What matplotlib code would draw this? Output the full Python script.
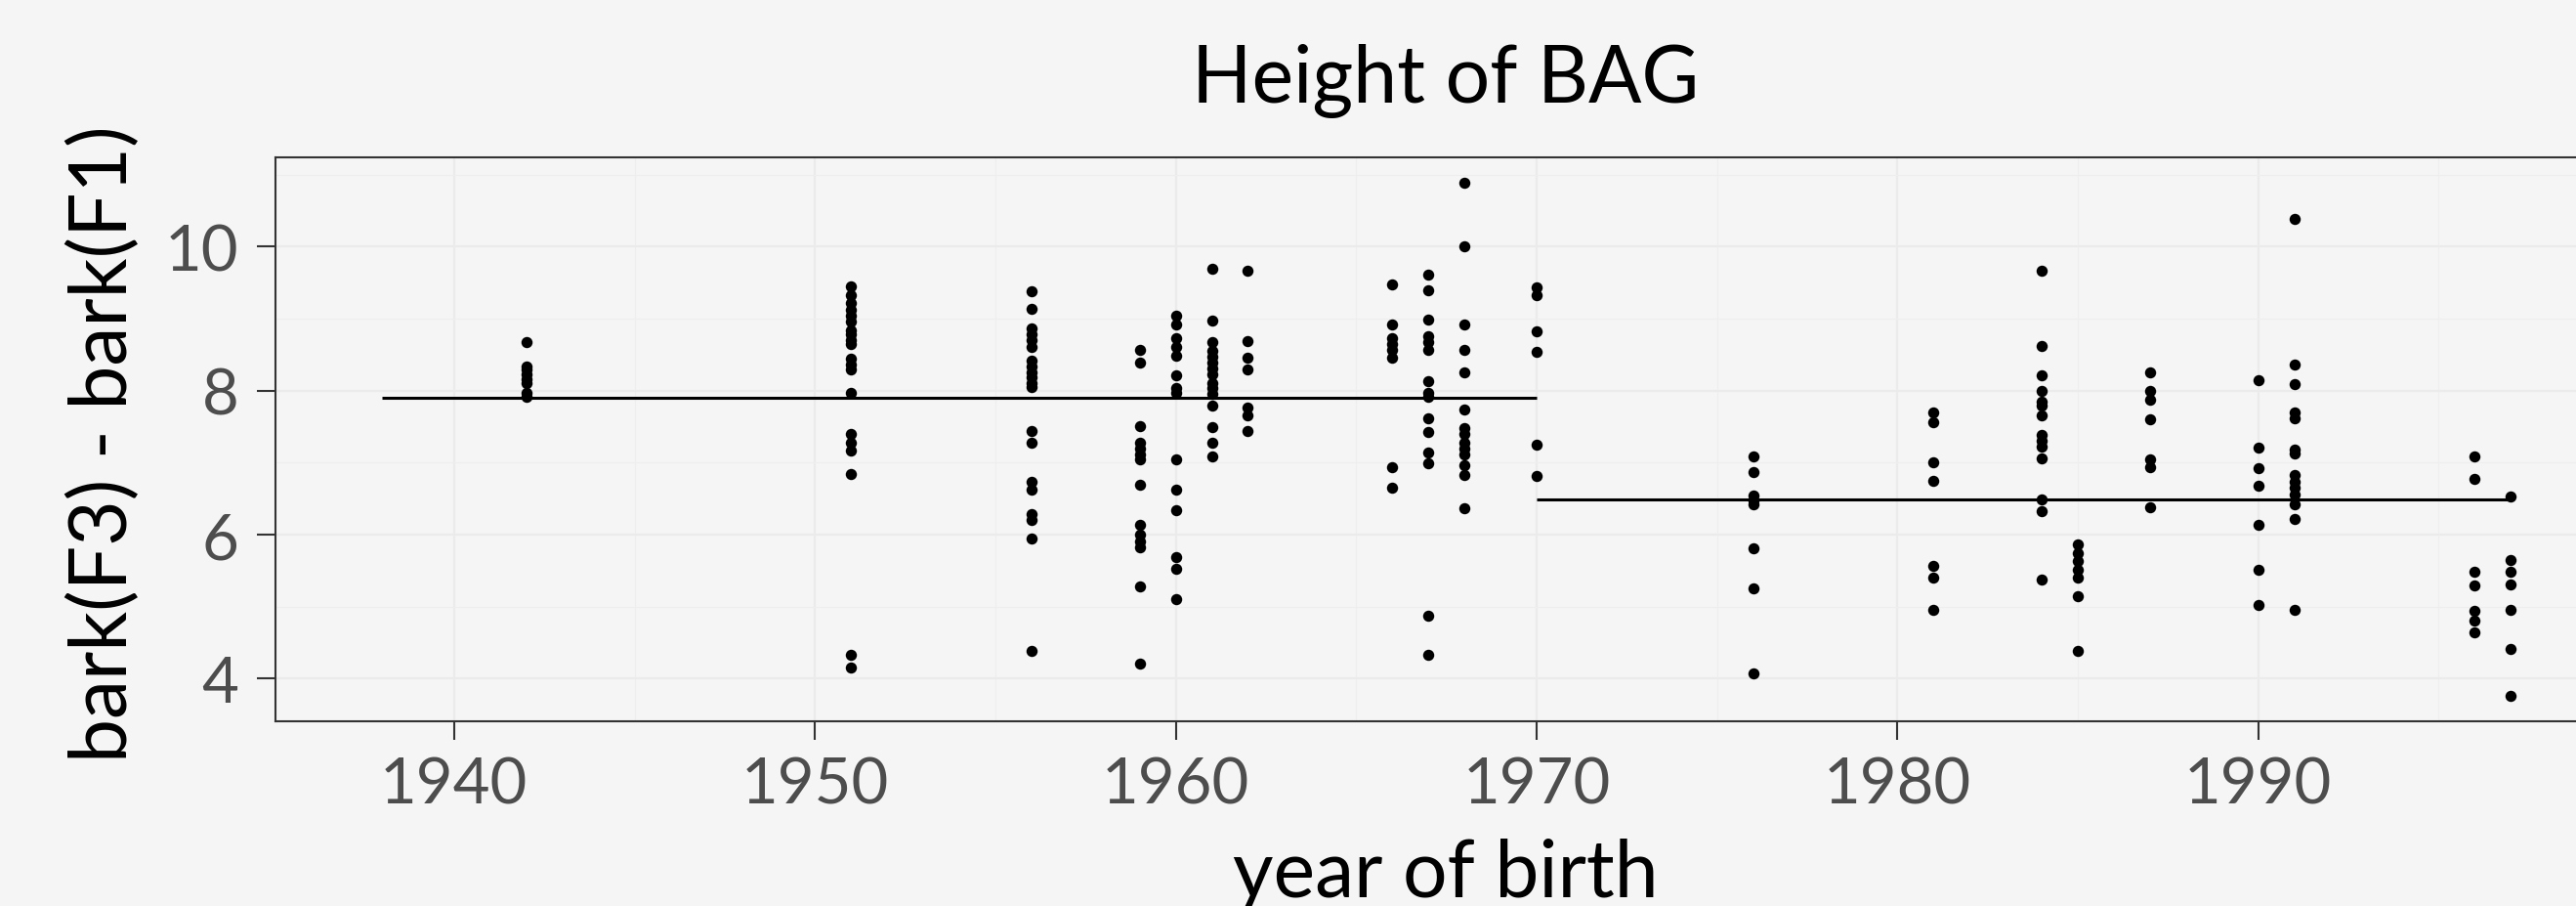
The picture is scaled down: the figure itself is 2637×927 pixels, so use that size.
import matplotlib
matplotlib.use("Agg")
import matplotlib.pyplot as plt
from matplotlib.ticker import MultipleLocator

plt.rcParams["font.family"] = ["Lato", "DejaVu Sans"]

# values, one list per birth year
years = [1942, 1951, 1956, 1959, 1960, 1961, 1962, 1966, 1967, 1968, 1970,
         1976, 1981, 1984, 1985, 1987, 1990, 1991, 1996, 1997]

v1942 = [8.67, 8.34, 8.29, 8.22, 8.16, 8.10, 7.97, 7.91]
v1951 = [9.45, 9.32, 9.22, 9.12, 9.04, 8.96, 8.83, 8.78, 8.70, 8.65, 8.44, 8.36,
         8.29, 7.97, 7.40, 7.27, 7.17, 6.84, 4.33, 4.16]
v1956 = [9.38, 9.13, 8.86, 8.78, 8.70, 8.60, 8.42, 8.34, 8.26, 8.18, 8.10, 8.05,
         7.44, 7.27, 6.74, 6.62, 6.29, 6.21, 5.94, 4.39]
v1959 = [8.56, 8.39, 7.51, 7.27, 7.19, 7.12, 7.05, 6.69, 6.13, 6.00, 5.90, 5.82,
         5.28, 4.21]
v1960 = [9.04, 8.92, 8.73, 8.60, 8.48, 8.21, 8.04, 7.97, 7.04, 6.63, 6.34, 5.69,
         5.52, 5.11]
v1961 = [9.69, 8.97, 8.68, 8.55, 8.47, 8.39, 8.31, 8.23, 8.10, 8.03, 7.96, 7.79,
         7.50, 7.27, 7.09]
v1962 = [9.66, 8.69, 8.45, 8.29, 7.77, 7.66, 7.44]
v1966 = [9.47, 8.92, 8.73, 8.65, 8.56, 8.45, 6.94, 6.65]
v1967 = [9.61, 9.39, 8.99, 8.75, 8.68, 8.56, 8.13, 7.97, 7.92, 7.62, 7.43, 7.14,
         6.99, 4.88, 4.33]
v1968 = [10.89, 10.01, 8.92, 8.56, 8.26, 7.74, 7.48, 7.40, 7.27, 7.19, 7.12,
         6.96, 6.83, 6.37]
v1970 = [9.44, 9.32, 8.82, 8.54, 7.25, 6.82]
v1976 = [7.08, 6.87, 6.55, 6.47, 6.42, 5.81, 5.25, 4.08]
v1981 = [7.70, 7.56, 7.00, 6.75, 5.56, 5.40, 4.96]
v1984 = [9.66, 8.62, 8.21, 8.00, 7.84, 7.79, 7.65, 7.38, 7.30, 7.22, 7.06, 6.49,
         6.32, 5.38]
v1985 = [5.87, 5.74, 5.64, 5.51, 5.40, 5.14, 4.38]
v1987 = [8.25, 8.00, 7.87, 7.60, 7.04, 6.94, 6.38]
v1990 = [8.15, 7.21, 6.92, 6.68, 6.13, 5.51, 5.02]
v1991 = [10.38, 8.36, 8.09, 7.70, 7.62, 7.18, 7.13, 6.83, 6.73, 6.65, 6.56,
         6.42, 6.22, 4.96]
v1996 = [7.09, 6.78, 5.48, 5.30, 4.94, 4.81, 4.65]
v1997 = [6.53, 5.65, 5.49, 5.31, 4.96, 4.42, 3.76]

groups = [v1942, v1951, v1956, v1959, v1960, v1961, v1962, v1966, v1967, v1968,
          v1970, v1976, v1981, v1984, v1985, v1987, v1990, v1991, v1996, v1997]

# period means (horizontal segments)
seg_start = [1938, 1970]
seg_end = [1970, 1997]
seg_mean = [7.90, 6.49]

x = [yr for yr, g in zip(years, groups) for _ in g]
y = [v for g in groups for v in g]

bg = "#f5f5f5"
fig = plt.figure(figsize=(26.37, 9.28), dpi=100, facecolor=bg)
ax = fig.add_axes([282 / 2637, 1 - 739.4 / 928, 2397.2 / 2637, 577.9 / 928])
ax.set_facecolor(bg)

ax.scatter(x, y, s=68, color="black", linewidths=0, zorder=3)
ax.hlines(seg_mean, seg_start, seg_end, color="black", linewidth=2.2, zorder=2)

ax.set_xlim(1935.05, 1999.95)
ax.set_ylim(3.404, 11.245)
ax.xaxis.set_major_locator(MultipleLocator(10))
ax.xaxis.set_minor_locator(MultipleLocator(5))
ax.yaxis.set_major_locator(MultipleLocator(2))
ax.yaxis.set_minor_locator(MultipleLocator(1))

ax.grid(which="major", color="#ebebeb", linewidth=1.6, zorder=0)
ax.grid(which="minor", color="#eeeeee", linewidth=0.9, zorder=0)
ax.set_axisbelow(True)

for side in ["left", "top", "bottom"]:
    ax.spines[side].set_color("#333333")
    ax.spines[side].set_linewidth(1.5)
ax.spines["right"].set_visible(False)

ax.tick_params(which="major", length=14, width=1.5, color="#333333",
               labelsize=47, labelcolor="#4d4d4d", pad=11)
ax.tick_params(which="minor", length=0)
ax.tick_params(axis="y", pad=13)

ax.set_ylabel("bark(F3) - bark(F1)", fontsize=58, color="black")
ax.yaxis.set_label_coords(-0.0576, 0.493)

fig.text(1480 / 2637, 1 - 918 / 928, "year of birth", fontsize=58,
         ha="center", va="baseline")
fig.text(1480 / 2637, 1 - 105 / 928, "Height of BAG", fontsize=58,
         ha="center", va="baseline")

fig.savefig("out.png", dpi=100, facecolor=bg)
